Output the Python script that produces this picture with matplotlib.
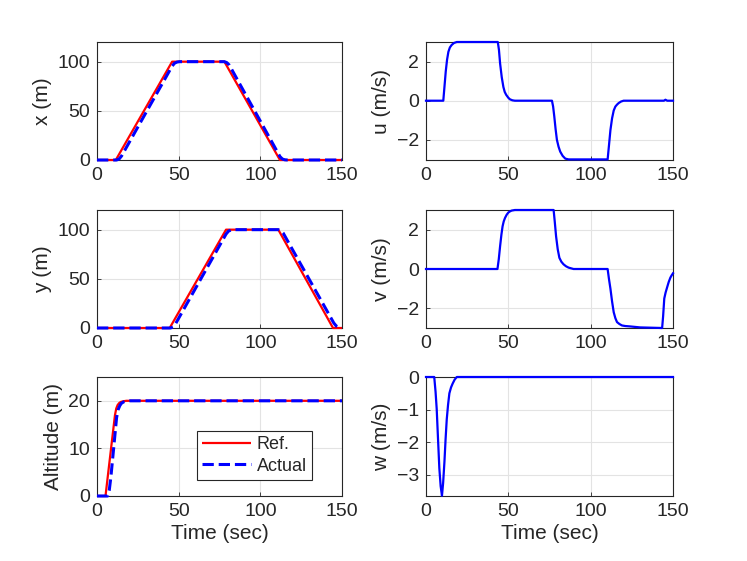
import matplotlib
matplotlib.use("Agg")
import matplotlib.pyplot as plt

plt.rcParams['font.family'] = ['Liberation Sans', 'DejaVu Sans']

# ---- data ----
x_ref_t = [0, 11.5, 46, 78, 112, 150]
x_ref = [0, 0, 100, 100, 0, 0]
x_act_t = [0, 12, 13.5, 15, 46, 47.5, 49, 50.5, 78, 79.5, 81, 112, 113.5, 115, 116.5, 150]
x_act = [0, 0, 1, 4, 95.5, 98.5, 99.6, 100, 100, 99, 96.5, 3.5, 1, 0.2, 0, 0]

y_ref_t = [0, 44.5, 79, 111, 144.5, 150]
y_ref = [0, 0, 100, 100, 0, 0]
y_act_t = [0, 45, 46.5, 48, 79, 80.5, 82, 83.5, 111, 112.5, 114, 145, 146.5, 148.5, 150]
y_act = [0, 0, 1, 4, 95.5, 98.5, 99.6, 100, 100, 99, 96.5, 5, 2, 0.5, 0.2]

alt_ref_t = [0, 5.2, 11, 11.8, 12.6, 13.5, 14.5, 16, 18, 150]
alt_ref = [0, 0, 17, 18.4, 19.1, 19.5, 19.75, 19.9, 20, 20]
alt_act_t = [0, 6.5, 7.5, 8.5, 12, 13, 14, 15, 16.5, 18, 20, 150]
alt_act = [0, 0, 1.2, 4, 16.5, 18.2, 19.0, 19.5, 19.8, 19.93, 20, 20]

u_t = [0, 10.5, 11.2, 12, 12.8, 13.6, 14.5, 15.6, 17, 18.7, 43.6, 44.3, 45, 46, 47,
       47.8, 48.7, 50, 51, 52.5, 54, 76.5, 77.2, 77.9, 78.7, 79.5, 80.5, 81.5, 83,
       84.6, 86.6, 110.3, 111.1, 112, 113, 114, 115, 116, 117, 118.5, 120, 144.5,
       145.4, 146.5, 150]
u = [0, 0, 0.7, 1.5, 2.1, 2.5, 2.72, 2.85, 2.95, 3, 3, 2.6, 1.9, 1.2, 0.7,
     0.45, 0.3, 0.15, 0.07, 0.02, 0, 0, -0.3, -0.8, -1.45, -2, -2.35, -2.6, -2.82,
     -2.96, -3, -3, -2.3, -1.5, -0.9, -0.5, -0.3, -0.2, -0.12, -0.04, 0, 0,
     0.05, 0, 0]

v_t = [0, 43.4, 44.2, 45, 45.8, 46.5, 47.2, 48, 49, 50, 51, 52, 54, 77.5, 78.2,
       79, 80, 81, 82.2, 83.5, 85, 86.6, 89.6, 110.3, 111.1, 112, 113, 114, 115,
       116, 117.5, 119, 121, 124, 130, 143.4, 144, 144.7, 145.5, 146.4, 147.4,
       148.4, 149.2, 150]
v = [0, 0, 0.5, 1.16, 1.75, 2.17, 2.42, 2.6, 2.76, 2.87, 2.93, 2.97, 3, 3, 2.4,
     1.66, 1.0, 0.57, 0.37, 0.24, 0.14, 0.07, 0, 0, -0.5,
     -1.0, -1.65, -2.2, -2.5, -2.7, -2.8, -2.87, -2.9, -2.92, -2.97, -3, -2.4,
     -1.5, -1.2, -0.94, -0.66, -0.44, -0.32, -0.22]

w_t = [0, 5, 5.8, 6.5, 7.3, 8.1, 8.9, 9.7, 10.4, 11.2, 11.9, 12.6, 13.4, 14.2,
       15.2, 16.2, 17.4, 18.7, 150]
w = [0, 0, -0.45, -0.98, -1.9, -2.8, -3.35, -3.64, -3.25, -2.6, -1.9, -1.3,
     -0.85, -0.5, -0.32, -0.2, -0.08, 0, 0]

xticks = [0, 50, 100, 150]
ylabels = ["x (m)", "u (m/s)", "y (m)", "v (m/s)", "Altitude (m)", "w (m/s)"]
xlabel = "Time (sec)"

# ---- figure ----
fig = plt.figure(figsize=(7.47, 5.61), dpi=100)
W, H = 747, 561
cols = [(97, 245), (426, 247)]
rows = [(42, 160), (210, 328), (377, 496)]
txt = '#262626'

axes = []
for r, (top, bot) in enumerate(rows):
    for c, (left, wid) in enumerate(cols):
        ax = fig.add_axes([left / W, (H - bot) / H, wid / W, (bot - top) / H])
        axes.append(ax)

red_kw = dict(color='#ff0000', lw=1.6, solid_capstyle='butt', clip_on=False)
blue_dash_kw = dict(color='#0000ff', lw=2.2, ls='--', clip_on=False)
blue_kw = dict(color='#0000ff', lw=1.6, clip_on=False)

axes[0].plot(x_ref_t, x_ref, **red_kw)
axes[0].plot(x_act_t, x_act, **blue_dash_kw)
axes[0].set_ylim(0, 120)
axes[0].set_yticks([0, 50, 100])

axes[2].plot(y_ref_t, y_ref, **red_kw)
axes[2].plot(y_act_t, y_act, **blue_dash_kw)
axes[2].set_ylim(0, 120)
axes[2].set_yticks([0, 50, 100])

axes[4].plot(alt_ref_t, alt_ref, label='Ref.', **red_kw)
axes[4].plot(alt_act_t, alt_act, label='Actual', **blue_dash_kw)
axes[4].set_ylim(0, 25)
axes[4].set_yticks([0, 10, 20])

axes[1].plot(u_t, u, **blue_kw)
axes[1].set_ylim(-3.03, 3.0)
axes[1].set_yticks([-2, 0, 2])

axes[3].plot(v_t, v, **blue_kw)
axes[3].set_ylim(-3.0, 3.0)
axes[3].set_yticks([-2, 0, 2])

axes[5].plot(w_t, w, **blue_kw)
axes[5].set_ylim(-3.65, 0)
axes[5].set_yticks([-3, -2, -1, 0])

for i, ax in enumerate(axes):
    ax.set_xlim(0, 150)
    ax.set_xticks(xticks)
    ax.grid(True, color='#e3e3e3', lw=0.8)
    ax.set_axisbelow(True)
    ax.tick_params(direction='in', length=3, width=0.6, colors=txt,
                   labelsize=14, pad=5)
    for s in ax.spines.values():
        s.set_color('#262626')
        s.set_linewidth(0.8)
        s.set_zorder(1.5)
    ax.set_ylabel(ylabels[i], fontsize=15, color=txt, labelpad=4)
    if i >= 4:
        ax.set_xlabel(xlabel, fontsize=15, color=txt, labelpad=3)

leg = axes[4].legend(loc='lower right', bbox_to_anchor=(0.878, 0.134),
                     fontsize=13, frameon=True, fancybox=False,
                     handlelength=2.7, borderaxespad=0, borderpad=0.3,
                     labelspacing=0.25, handletextpad=0.3)
leg.get_frame().set_edgecolor('#262626')
leg.get_frame().set_linewidth(0.8)
leg.get_frame().set_alpha(1)
for t in leg.get_texts():
    t.set_color(txt)

fig.savefig('out.png', dpi=100)
